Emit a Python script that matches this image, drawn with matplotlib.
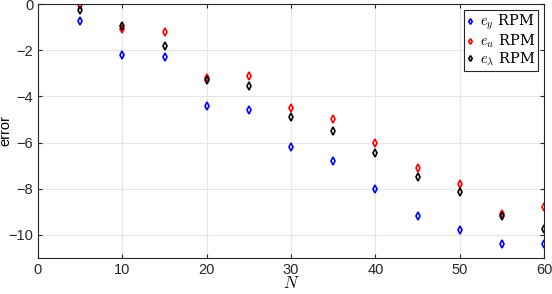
import matplotlib
matplotlib.use("Agg")
import matplotlib.pyplot as plt

N = [5, 10, 15, 20, 25, 30, 35, 40, 45, 50, 55, 60]
e_y = [-0.75, -2.2, -2.3, -4.4, -4.6, -6.2, -6.8, -8.0, -9.2, -9.8, -10.4, -10.4]
e_u = [-0.05, -1.1, -1.2, -3.2, -3.1, -4.5, -5.0, -6.0, -7.1, -7.8, -9.1, -8.8]
e_lam = [-0.25, -0.97, -1.8, -3.3, -3.55, -4.9, -5.5, -6.45, -7.5, -8.15, -9.2, -9.75]

plt.rcParams['font.family'] = ['Liberation Sans', 'DejaVu Sans']
plt.rcParams['mathtext.fontset'] = 'cm'

fig = plt.figure(figsize=(5.52, 2.94), dpi=100)
ax = fig.add_axes([38 / 552, 1 - 258 / 294, (544 - 38) / 552, (258 - 4) / 294])

mk = dict(marker='d', linestyle='none', markersize=3.6, markerfacecolor='none', markeredgewidth=1.2)
ax.plot(N, e_y, color='#0000ff', label=r'$e_y$ RPM', **mk)
ax.plot(N, e_u, color='#ff0000', label=r'$e_u$ RPM', **mk)
ax.plot(N, e_lam, color='black', label=r'$e_\lambda$ RPM', **mk)

ax.set_xlim(0, 60)
ax.set_ylim(-11, 0)
ax.set_xticks(range(0, 61, 10))
ax.set_yticks([-10, -8, -6, -4, -2, 0])
ax.grid(True, color='#e6e6e6', linewidth=0.8)
ax.set_axisbelow(True)
ax.tick_params(direction='in', top=True, right=True, labelsize=10.5, colors='#262626', length=3)
for s in ax.spines.values():
    s.set_color('#262626')
    s.set_linewidth(0.8)

ax.set_xlabel(r'$N$', fontsize=12, labelpad=-1)
ax.set_ylabel('error', fontsize=10.5)
ax.yaxis.set_label_coords(-0.05, 0.5)

leg = ax.legend(loc='upper right', handlelength=0.5, handletextpad=0.4, markerscale=0.8,
                borderpad=0.2, labelspacing=0.05, fancybox=False, framealpha=1,
                borderaxespad=0.4, prop={'family': 'DejaVu Serif', 'size': 10.5})
leg.get_frame().set_edgecolor('#262626')
leg.get_frame().set_linewidth(0.8)

fig.savefig('out.png', dpi=100)
